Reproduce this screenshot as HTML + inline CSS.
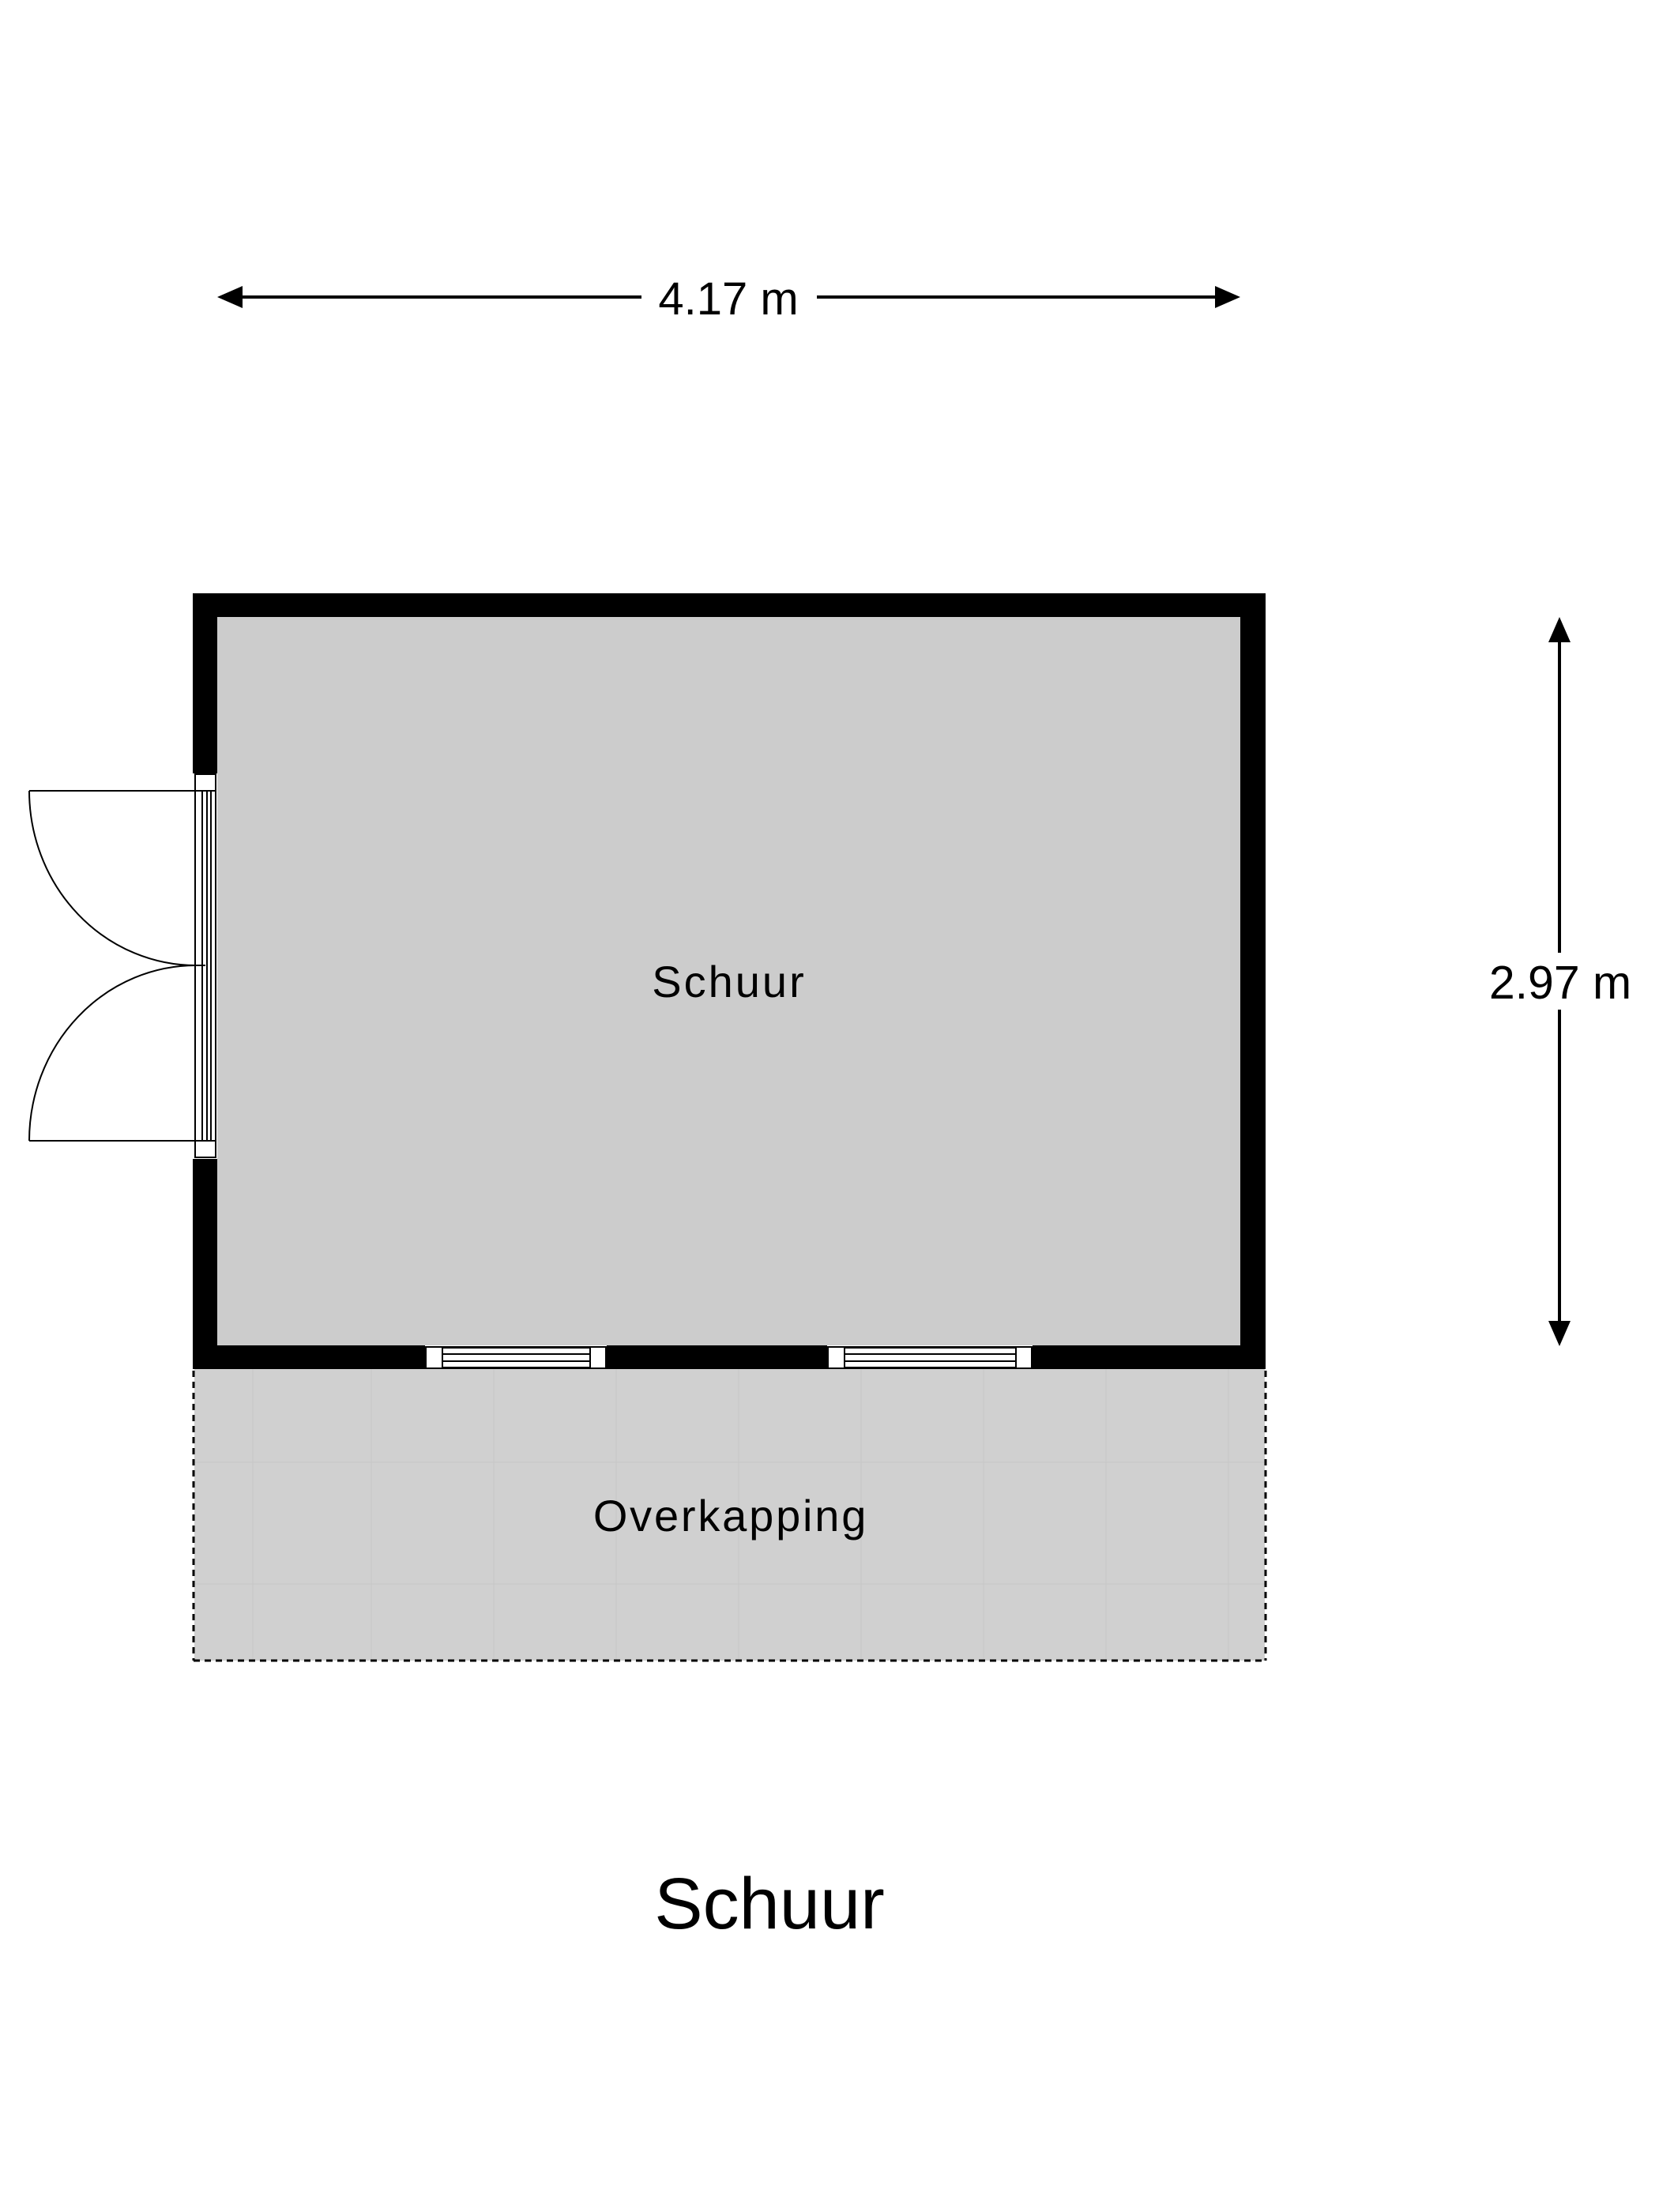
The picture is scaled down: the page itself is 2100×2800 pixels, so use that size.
<!DOCTYPE html>
<html><head><meta charset="utf-8"><style>html,body{margin:0;padding:0;background:#fff}svg{display:block}</style></head>
<body>
<svg width="2100" height="2800" viewBox="0 0 2100 2800" xmlns="http://www.w3.org/2000/svg" font-family="Liberation Sans, Arial, sans-serif">
<rect width="2100" height="2800" fill="#fff"/>
<!-- overkapping -->
<rect x="246" y="1733" width="1355" height="369" fill="#d0d0d0"/>
<g stroke="#c8c8c8" stroke-width="1.2">
<line x1="320" y1="1733" x2="320" y2="2102"/><line x1="470" y1="1733" x2="470" y2="2102"/>
<line x1="625" y1="1733" x2="625" y2="2102"/><line x1="780" y1="1733" x2="780" y2="2102"/>
<line x1="935" y1="1733" x2="935" y2="2102"/><line x1="1090" y1="1733" x2="1090" y2="2102"/>
<line x1="1245" y1="1733" x2="1245" y2="2102"/><line x1="1400" y1="1733" x2="1400" y2="2102"/>
<line x1="1555" y1="1733" x2="1555" y2="2102"/>
<line x1="246" y1="1851" x2="1601" y2="1851"/><line x1="246" y1="2005" x2="1601" y2="2005"/>
</g>
<g stroke="#000" stroke-width="3" stroke-dasharray="8,6" fill="none">
<line x1="245" y1="1735" x2="245" y2="2102"/>
<line x1="1602" y1="1735" x2="1602" y2="2102"/>
<line x1="245" y1="2102" x2="1602" y2="2102"/>
</g>
<!-- room -->
<rect x="244" y="751" width="1358" height="982" fill="#000"/>
<rect x="275" y="781" width="1295" height="922" fill="#cccccc"/>
<!-- door gap -->
<rect x="243" y="979" width="33" height="488" fill="#fff"/>
<rect x="275" y="979" width="2" height="488" fill="#cccccc"/>
<g stroke="#000" stroke-width="2" fill="none">
<rect x="247" y="980" width="26" height="21"/>
<rect x="247" y="1444" width="26" height="21"/>
<line x1="247" y1="1001" x2="247" y2="1444"/>
<line x1="273" y1="1001" x2="273" y2="1444"/>
<line x1="256" y1="1001" x2="256" y2="1444"/>
<line x1="262" y1="1001" x2="262" y2="1444"/>
<line x1="267" y1="1001" x2="267" y2="1444"/>
<line x1="37" y1="1001" x2="248" y2="1001"/>
<line x1="37" y1="1444" x2="248" y2="1444"/>
<line x1="240" y1="1222" x2="260" y2="1222"/>
<path d="M37 1001 A211 221 0 0 0 248 1222"/>
<path d="M37 1444 A211 222 0 0 1 248 1222"/>
</g>
<!-- windows -->
<g stroke="#000" stroke-width="2">
<rect x="538" y="1703" width="230" height="30" fill="#fff" stroke="none"/>
<rect x="539" y="1705" width="228" height="27" fill="#fff"/>
<rect x="560" y="1706" width="187" height="25" fill="#fff"/>
<line x1="560" y1="1714" x2="747" y2="1714"/>
<line x1="560" y1="1723" x2="747" y2="1723"/>
<rect x="1047" y="1703" width="260" height="30" fill="#fff" stroke="none"/>
<rect x="1048" y="1705" width="258" height="27" fill="#fff"/>
<rect x="1069" y="1706" width="217" height="25" fill="#fff"/>
<line x1="1069" y1="1714" x2="1286" y2="1714"/>
<line x1="1069" y1="1723" x2="1286" y2="1723"/>
</g>
<!-- dims -->
<g stroke="#000" stroke-width="4">
<line x1="285" y1="376" x2="812" y2="376"/>
<line x1="1034" y1="376" x2="1560" y2="376"/>
<line x1="1974" y1="790" x2="1974" y2="1206"/>
<line x1="1974" y1="1278" x2="1974" y2="1695"/>
</g>
<g fill="#000">
<polygon points="275,376 307,362 307,390"/>
<polygon points="1570,376 1538,362 1538,390"/>
<polygon points="1974,781 1960,813 1988,813"/>
<polygon points="1974,1704 1960,1672 1988,1672"/>
</g>
<g fill="#000" text-anchor="middle">
<text x="922" y="398" font-size="58">4.17 m</text>
<text x="1975" y="1264" font-size="59">2.97 m</text>
<text x="923" y="1262" font-size="56" letter-spacing="3">Schuur</text>
<text x="925" y="1938" font-size="56" letter-spacing="2.8">Overkapping</text>
<text x="974" y="2441" font-size="92">Schuur</text>
</g>
</svg>
</body></html>
